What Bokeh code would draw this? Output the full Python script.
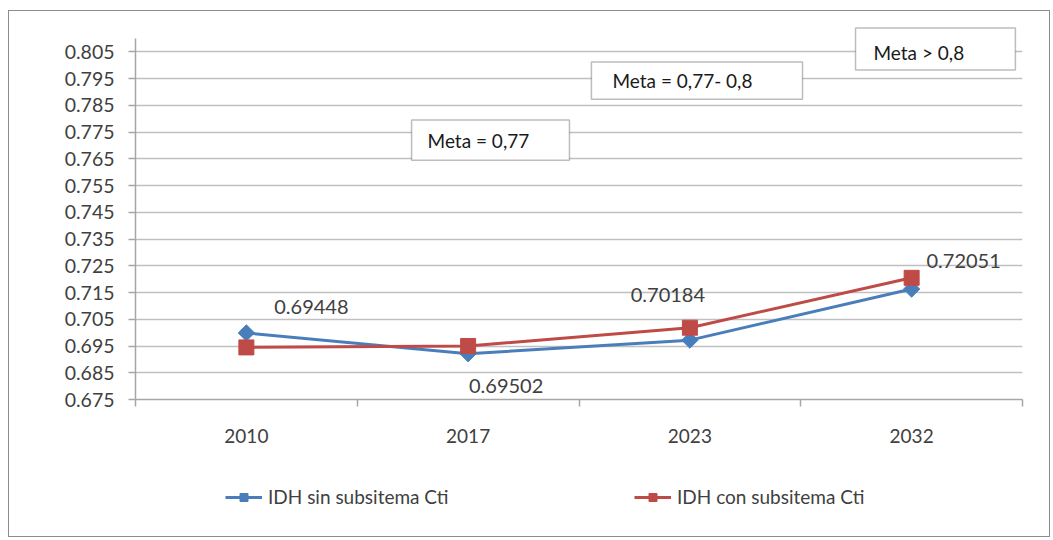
from bokeh.plotting import figure
from bokeh.layouts import column
from bokeh.models import (FixedTicker, PrintfTickFormatter, Range1d, BoxAnnotation,
                          Label, Legend, LegendItem)
from bokeh.embed import file_html
from bokeh.resources import INLINE

years = ["2010", "2017", "2023", "2032"]
idh_sin = [0.6999, 0.6921, 0.6972, 0.7163]
idh_con = [0.69448, 0.69502, 0.70184, 0.72051]
y_ticks = [0.675, 0.685, 0.695, 0.705, 0.715, 0.725, 0.735, 0.745,
           0.755, 0.765, 0.775, 0.785, 0.795, 0.805]
series_names = ["IDH sin subsitema Cti", "IDH con subsitema Cti"]
metas = ["Meta = 0,77", "Meta = 0,77- 0,8", "Meta > 0,8"]

FONT = "Lato"
TXT = "#404040"
BLUE = "#4a7ebb"
RED = "#be4b48"

xs = [i + 0.5 for i in range(len(years))]

p = figure(width=1040, height=443, output_backend="svg", toolbar_location=None,
           x_range=Range1d(0, len(years)), y_range=Range1d(0.675, 0.8145),
           min_border_left=126, min_border_right=27, min_border_top=15,
           min_border_bottom=55, outline_line_color=None,
           background_fill_color="white", border_fill_color="white")

# axes
p.xaxis.ticker = FixedTicker(ticks=xs, minor_ticks=list(range(len(years) + 1)))
p.xaxis.major_label_overrides = {x: y for x, y in zip(xs, years)}
p.xaxis.major_tick_out = 0
p.xaxis.major_tick_in = 0
p.xaxis.minor_tick_out = 7
p.xaxis.minor_tick_in = 0
p.xaxis.minor_tick_line_color = "#a6a6a6"
p.xaxis.minor_tick_line_width = 1.5
p.xaxis.axis_line_color = "#a6a6a6"
p.xaxis.axis_line_width = 1.5
p.xaxis.major_label_standoff = 22
p.xaxis.major_label_text_font = FONT
p.xaxis.major_label_text_font_size = "19px"
p.xaxis.major_label_text_color = TXT

p.yaxis.ticker = FixedTicker(ticks=y_ticks)
p.yaxis.bounds = (0.675, 0.810)
p.yaxis.formatter = PrintfTickFormatter(format="%.3f")
p.yaxis.major_tick_out = 7
p.yaxis.major_tick_in = 0
p.yaxis.minor_tick_line_color = None
p.yaxis.major_tick_line_color = "#a6a6a6"
p.yaxis.major_tick_line_width = 1.5
p.yaxis.axis_line_color = "#a6a6a6"
p.yaxis.axis_line_width = 1.5
p.yaxis.major_label_standoff = 14
p.yaxis.major_label_text_font = FONT
p.yaxis.major_label_text_font_size = "19.5px"
p.yaxis.major_label_text_color = TXT

p.xgrid.grid_line_color = None
p.ygrid.grid_line_color = "#c0c0c0"
p.ygrid.grid_line_width = 1.6

# series
l1 = p.line(xs, idh_sin, line_color=BLUE, line_width=3)
m1 = p.scatter(xs, idh_sin, marker="square", angle=0.785398, size=11.5,
               fill_color=BLUE, line_color=BLUE)
l2 = p.line(xs, idh_con, line_color=RED, line_width=3)
m2 = p.scatter(xs, idh_con, marker="square", size=15, fill_color=RED, line_color=RED)

# data labels (red series)
label_offsets = [(65, 40), (38, -40), (-22, 33), (52, 17)]
for x, v, (dx, dy) in zip(xs, idh_con, label_offsets):
    p.add_layout(Label(x=x, y=v, x_offset=dx, y_offset=dy, text=f"{v:.5f}",
                       text_align="center", text_baseline="middle",
                       text_font=FONT, text_font_size="20px", text_color=TXT))

# goal boxes
boxes = [(1.245, 1.957, 0.7795, 0.7645), (2.056, 3.008, 0.8012, 0.7873),
         (3.247, 3.968, 0.8139, 0.7982)]
text_pos = [(1.317, 0.7720), (2.151, 0.7944), (3.328, 0.8049)]
for (l, r, t, b), (tx, ty), txt in zip(boxes, text_pos, metas):
    p.add_layout(BoxAnnotation(left=l, right=r, top=t, bottom=b,
                               fill_color="white", fill_alpha=1.0,
                               line_color="#262626", line_width=1.5))
    p.add_layout(Label(x=tx, y=ty, text=txt, text_align="left",
                       text_baseline="middle", text_font=FONT,
                       text_font_size="19px", text_color="#1a1a1a"))

# legend strip (series drawn out of view; only their legend glyphs show)
q = figure(width=1040, height=82, output_backend="svg", toolbar_location=None,
           x_range=Range1d(0, len(years)), y_range=Range1d(2, 3),
           min_border=0, outline_line_color=None,
           background_fill_color="white", border_fill_color="white")
q.axis.visible = False
q.grid.visible = False
ql1 = q.line(xs, idh_sin, line_color=BLUE, line_width=3)
qm1 = q.scatter(xs, idh_sin, marker="square", angle=0.785398, size=11.5,
                fill_color=BLUE, line_color=BLUE)
ql2 = q.line(xs, idh_con, line_color=RED, line_width=3)
qm2 = q.scatter(xs, idh_con, marker="square", size=15, fill_color=RED, line_color=RED)

for rs, name, loc in [((ql1, qm1), series_names[0], (90, 28)),
                      ((ql2, qm2), series_names[1], (499, 28))]:
    lg = Legend(items=[LegendItem(label=name, renderers=list(rs))],
                location=loc, padding=0, margin=0,
                border_line_color=None, background_fill_alpha=0,
                glyph_width=37, glyph_height=20, label_height=20,
                label_standoff=6, label_text_font=FONT,
                label_text_font_size="19px", label_text_color=TXT)
    q.add_layout(lg, "center")

layout = column(p, q, styles={"border": "1px solid #8c8c8c",
                              "margin-left": "8px", "margin-top": "10px"})

open("out.html", "w").write(file_html(layout, INLINE))
